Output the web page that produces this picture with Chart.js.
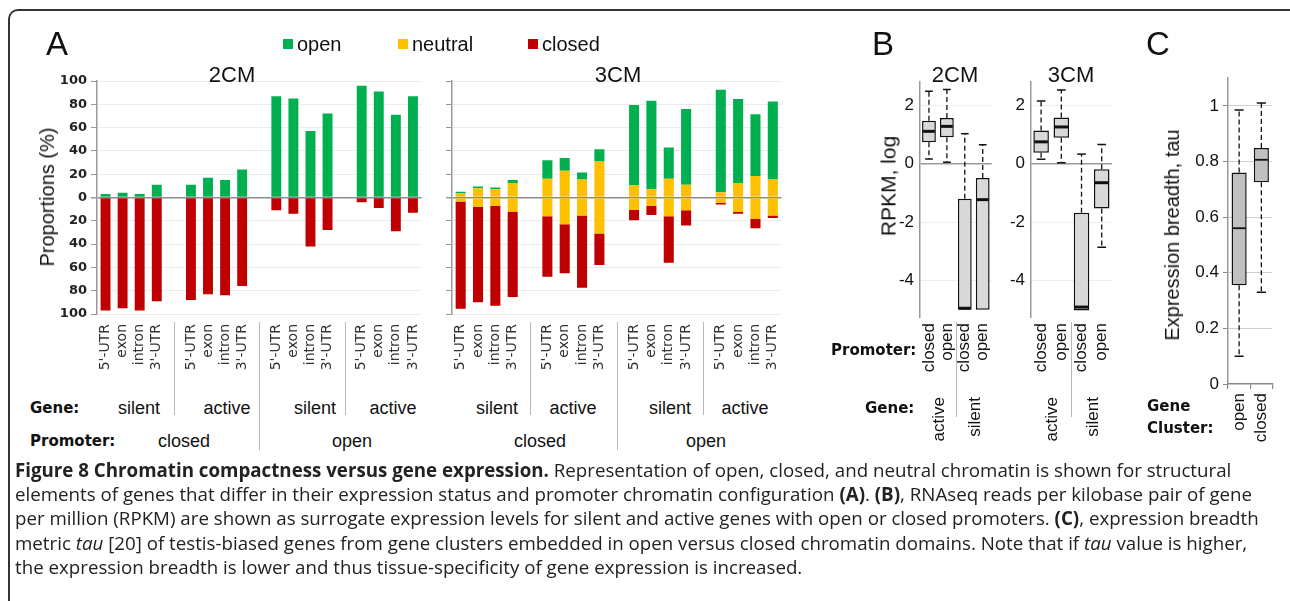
<!DOCTYPE html>
<html><head><meta charset="utf-8">
<script src="https://cdn.jsdelivr.net/npm/chart.js@4.4.1/dist/chart.umd.min.js"></script>
<style>
html,body{margin:0;padding:0;background:#fff;}
body{width:1290px;height:601px;position:relative;overflow:hidden;font-family:"Liberation Sans",Arial,sans-serif;color:#111;}
.abs{position:absolute;white-space:nowrap;line-height:1;}
.cv{position:absolute;}
.rot{position:absolute;white-space:nowrap;line-height:1;transform-origin:0 0;transform:rotate(-90deg) translate(-100%,-50%);}
.vc{transform:translateY(-50%);}
.hc{transform:translate(-50%,-50%);}
.bold{font-family:"DejaVu Sans",Verdana,sans-serif;font-weight:bold;font-size:15px;}
.grp{font-size:18px;color:#111;}
.sep{position:absolute;width:1px;background:#b8b8b8;}
#frame{position:absolute;left:8px;top:9px;width:1290px;height:600px;border-top:2px solid #333;border-left:2px solid #333;border-top-left-radius:10px;}
#cap{position:absolute;left:15px;top:458px;font-family:"Open Sans",sans-serif;font-size:17px;line-height:24.2px;color:#222;}
#cap div{white-space:nowrap;}
.sq{position:absolute;width:10px;height:10px;}
</style>
</head><body>
<div id="frame"></div>

<canvas id="a2" class="cv" width="440" height="310" style="left:0px;top:60px"></canvas>
<canvas id="a3" class="cv" width="360" height="310" style="left:440px;top:60px"></canvas>
<canvas id="b2" class="cv" width="150" height="330" style="left:860px;top:60px"></canvas>
<canvas id="b3" class="cv" width="130" height="330" style="left:1000px;top:60px"></canvas>
<canvas id="c1" class="cv" width="160" height="400" style="left:1130px;top:60px"></canvas>

<div id="labels"></div>

<div id="cap">
<div id="cl1"><b>Figure 8 Chromatin compactness versus gene expression.</b> Representation of open, closed, and neutral chromatin is shown for structural</div>
<div>elements of genes that differ in their expression status and promoter chromatin configuration <b>(A)</b>. <b>(B)</b>, RNAseq reads per kilobase pair of gene</div>
<div>per million (RPKM) are shown as surrogate expression levels for silent and active genes with open or closed promoters. <b>(C)</b>, expression breadth</div>
<div>metric <i>tau</i> [20] of testis-biased genes from gene clusters embedded in open versus closed chromatin domains. Note that if <i>tau</i> value is higher,</div>
<div>the expression breadth is lower and thus tissue-specificity of gene expression is increased.</div>
</div>

<script>
// ---------------- DATA ----------------
const elements = ["5'-UTR", "exon", "intron", "3'-UTR"];
const geneGroupsA = ["silent", "active", "silent", "active"];
const promoterGroupsA = ["closed", "open"];
const legendLabels = ["open", "neutral", "closed"];

// Panel A, 2CM (percent)
const open2CM    = [3, 4, 3, 11,   11, 17, 15, 24,   87, 85, 57, 72,   96, 91, 71, 87];
const neutral2CM = [0, 0, 0, 0,    0, 0, 0, 0,       0, 0, 0, 0,       0, 0, 0, 0];
const closed2CM  = [97, 95, 97, 89, 88, 83, 84, 76,  11, 14, 42, 28,   4, 9, 29, 13];

// Panel A, 3CM (percent)
const open3CM    = [1.5, 1.5, 1.5, 2.5, 16, 11, 6, 10.5, 69, 76, 27, 65, 88, 72, 53, 67];
const neutral3CM = [7, 16, 14, 25,       32, 46, 31, 62,  21, 14, 32, 22, 9, 25, 37, 31];
const closed3CM  = [92, 82, 86, 73,      52, 42, 62, 27,  9, 8, 40, 13,   1.5, 1.5, 8, 2];

const propTicks = [-100, -80, -60, -40, -20, 0, 20, 40, 60, 80, 100];

// Panel B (RPKM, log)
const promoterB = ["closed", "open", "closed", "open"];
const geneB = ["active", "silent"];
const rpkmTicks = [-4, -2, 0, 2];
const b2Low  = [0.16, 0.05, -5.0, -5.0];
const b2Q1   = [0.74, 0.91, -5.0, -5.0];
const b2Med  = [1.11, 1.28, -4.95, -1.23];
const b2Q3   = [1.47, 1.57, -1.2, -0.49];
const b2High = [2.48, 2.54, 1.03, 0.65];
const b3Low  = [0.15, 0.03, -5.03, -2.86];
const b3Q1   = [0.38, 0.89, -5.03, -1.53];
const b3Med  = [0.75, 1.26, -4.91, -0.65];
const b3Q3   = [1.14, 1.58, -1.68, -0.19];
const b3High = [2.15, 2.53, 0.33, 0.66];

// Panel C (tau)
const clusterC = ["open", "closed"];
const tauTicks = [0, 0.2, 0.4, 0.6, 0.8, 1];
const cLow  = [0.10, 0.33];
const cQ1   = [0.355, 0.725];
const cMed  = [0.56, 0.806];
const cQ3   = [0.76, 0.848];
const cHigh = [0.985, 1.01];

// ---------------- STYLE ----------------
const GREEN = '#00AF50', YELLOW = '#FFC000', RED = '#C00000';
const SANS = "'Liberation Sans',Arial,sans-serif";
const BOLDF = "'DejaVu Sans',Verdana,sans-serif";

function slotify(a) {
  const o = [];
  for (let g = 0; g < 4; g++) {
    for (let k = 0; k < 4; k++) o.push(a[g * 4 + k]);
    if (g < 3) o.push(null);
  }
  return o;
}
const slotLabels = slotify([].concat(elements, elements, elements, elements)).map(v => v === null ? '' : v);

function makeA(id, open, neutral, closed, showY, yW, padR) {
  const nUp = slotify(neutral).map(v => v === null ? null : v / 2);
  const nDn = slotify(neutral).map(v => v === null ? null : -v / 2);
  const op = slotify(open);
  const cl = slotify(closed).map(v => v === null ? null : -v);
  const common = { barPercentage: 0.58, categoryPercentage: 1, borderWidth: 0 };
  return new Chart(document.getElementById(id), {
    type: 'bar',
    data: {
      labels: slotLabels,
      datasets: [
        Object.assign({ label: 'neutral', data: nUp, backgroundColor: YELLOW }, common),
        Object.assign({ label: 'neutral-', data: nDn, backgroundColor: YELLOW }, common),
        Object.assign({ label: 'open', data: op, backgroundColor: GREEN }, common),
        Object.assign({ label: 'closed', data: cl, backgroundColor: RED }, common)
      ]
    },
    options: {
      responsive: false, animation: false, maintainAspectRatio: false,
      layout: { padding: { left: 0, top: 21, right: padR, bottom: 0 } },
      plugins: { legend: { display: false }, tooltip: { enabled: false } },
      scales: {
        x: {
          stacked: true,
          grid: { display: false, drawTicks: false },
          border: { display: false },
          ticks: { autoSkip: false, maxRotation: 90, minRotation: 90, padding: 10,
                   font: { family: "'DejaVu Sans'", style: 'condensed', size: 14 }, color: '#333' },
          afterFit: s => { s.height = 56; }
        },
        y: {
          stacked: true, min: -100, max: 100,
          afterBuildTicks: ax => { ax.ticks = propTicks.map(v => ({ value: v })); },
          ticks: { display: showY, callback: v => String(Math.abs(v)), padding: 4,
                   font: { family: BOLDF, weight: 'bold', size: 13 }, color: '#222' },
          grid: { color: c => c.tick && c.tick.value === 0 ? '#8c8c8c' : '#ececec',
                  lineWidth: c => c.tick && c.tick.value === 0 ? 1.5 : 1,
                  tickColor: '#999', tickLength: 6 },
          border: { color: '#999', width: 1.5 },
          afterFit: s => { s.width = yW; }
        }
      }
    }
  });
}

const chA2 = makeA('a2', open2CM, neutral2CM, closed2CM, true, 97, 10);
const chA3 = makeA('a3', open3CM, neutral3CM, closed3CM, false, 12, 15);

function boxPluginFactory(low, q1, med, q3, high, medW, capFrac) {
  return {
    id: 'boxw',
    afterDatasetsDraw(chart) {
      const ctx = chart.ctx, ys = chart.scales.y;
      const meta = chart.getDatasetMeta(0);
      meta.data.forEach((bar, i) => {
        const x = bar.x, w = bar.width;
        const py = v => ys.getPixelForValue(v);
        ctx.save();
        ctx.strokeStyle = '#111';
        ctx.lineWidth = 1.3;
        ctx.setLineDash([5, 3]);
        ctx.beginPath();
        if (high[i] > q3[i]) { ctx.moveTo(x, py(q3[i])); ctx.lineTo(x, py(high[i])); }
        if (low[i] < q1[i]) { ctx.moveTo(x, py(q1[i])); ctx.lineTo(x, py(low[i])); }
        ctx.stroke();
        ctx.setLineDash([]);
        ctx.lineWidth = 1.5;
        ctx.beginPath();
        const cw = w * capFrac;
        if (high[i] > q3[i]) { ctx.moveTo(x - cw, py(high[i])); ctx.lineTo(x + cw, py(high[i])); }
        if (low[i] < q1[i]) { ctx.moveTo(x - cw, py(low[i])); ctx.lineTo(x + cw, py(low[i])); }
        ctx.stroke();
        ctx.lineWidth = medW;
        ctx.beginPath();
        ctx.moveTo(x - w / 2 + 1, py(med[i])); ctx.lineTo(x + w / 2 - 1, py(med[i]));
        ctx.stroke();
        ctx.restore();
      });
    }
  };
}

function makeBox(id, labels, low, q1, med, q3, high, cfg) {
  return new Chart(document.getElementById(id), {
    type: 'bar',
    data: {
      labels: labels,
      datasets: [{
        data: q1.map((v, i) => [v, q3[i]]),
        backgroundColor: cfg.fill, borderColor: '#111', borderWidth: 1.5, borderSkipped: false,
        barPercentage: cfg.barPct, categoryPercentage: 1
      }]
    },
    plugins: [boxPluginFactory(low, q1, med, q3, high, cfg.medW, cfg.cap)],
    options: {
      responsive: false, animation: false, maintainAspectRatio: false,
      layout: { padding: cfg.pad },
      plugins: { legend: { display: false }, tooltip: { enabled: false } },
      scales: {
        x: {
          grid: cfg.xGrid,
          border: cfg.xBorder,
          ticks: { autoSkip: false, maxRotation: 90, minRotation: 90, padding: cfg.xPad,
                   font: { family: SANS, size: 17 }, color: '#111' },
          afterFit: s => { s.height = cfg.xH; }
        },
        y: {
          min: cfg.min, max: cfg.max,
          afterBuildTicks: ax => { ax.ticks = cfg.ticks.map(v => ({ value: v })); },
          ticks: { callback: v => String(v), padding: cfg.yPad,
                   font: { family: SANS, size: 17 }, color: '#111' },
          grid: cfg.yGrid,
          border: { color: '#999', width: 1.5 },
          afterFit: s => { s.width = cfg.yW; }
        }
      }
    }
  });
}

const bGrid = { color: c => c.tick && c.tick.value === 0 ? '#999' : '#eeeeee', lineWidth: c => c.tick && c.tick.value === 0 ? 1.5 : 1, drawTicks: false };
const bCfg = (yW, padR) => ({
  fill: '#d9d9d9', barPct: 0.77, medW: 3, cap: 0.28,
  pad: { left: 0, top: 22, right: padR, bottom: 0 },
  xGrid: { display: false, drawTicks: false }, xBorder: { display: false }, xPad: 6, xH: 73,
  min: -5.25, max: 2.8, ticks: rpkmTicks, yPad: 6, yGrid: bGrid, yW: yW
});
const chB2 = makeBox('b2', promoterB, b2Low, b2Q1, b2Med, b2Q3, b2High, bCfg(60, 7));
const chB3 = makeBox('b3', promoterB, b3Low, b3Q1, b3Med, b3Q3, b3High, bCfg(31, 15));

const chC = makeBox('c1', clusterC, cLow, cQ1, cMed, cQ3, cHigh, {
  fill: '#c0c0c0', barPct: 0.68, medW: 1.8, cap: 0.3,
  pad: { left: 0, top: 18, right: 17, bottom: 0 },
  xGrid: { display: true, offset: true, drawOnChartArea: false, color: '#888', tickLength: 5, lineWidth: 1.2 },
  xBorder: { display: true, color: '#888', width: 1.5 }, xPad: 4, xH: 76,
  min: 0, max: 1.1, ticks: tauTicks, yPad: 4,
  yGrid: { color: c => c.tick && c.tick.value === 0 ? 'rgba(0,0,0,0)' : '#cfcfcf', borderDash: [2, 2], tickColor: '#888', tickLength: 5, tickBorderDash: [] },
  yW: 98
});

// ---------------- HTML TEXT ----------------
const L = document.getElementById('labels');
function add(html, cls, style) {
  const d = document.createElement('div');
  d.className = cls; d.innerHTML = html; d.setAttribute('style', style);
  L.appendChild(d); return d;
}
function sep(x, y1, y2) { add('', 'sep', `left:${Math.round(x)}px;top:${y1}px;height:${y2 - y1}px`); }
function canvasX(ch, v) { return ch.canvas.offsetLeft + ch.scales.x.getPixelForValue(v); }

// panel letters
add('A', 'abs', 'left:46px;top:27px;font-size:33px;');
add('B', 'abs', 'left:872px;top:27px;font-size:33px;');
add('C', 'abs', 'left:1146px;top:27px;font-size:33px;');

// legend
const legCols = [GREEN, YELLOW, RED];
const legX = [283, 398, 528];
legendLabels.forEach((t, i) => {
  add('', 'sq', `left:${legX[i]}px;top:39px;background:${legCols[i]}`);
  add(t, 'abs vc', `left:${legX[i] + 14}px;top:44px;font-size:20px;`);
});

// titles
add('2CM', 'abs hc', 'left:232px;top:75px;font-size:22px;');
add('3CM', 'abs hc', 'left:618px;top:75px;font-size:22px;');
add('2CM', 'abs hc', 'left:955px;top:75px;font-size:22px;');
add('3CM', 'abs hc', 'left:1071px;top:75px;font-size:22px;');

// axis titles (rotated, centered)
add('Proportions (%)', 'abs', 'left:47px;top:197px;font-size:20px;transform:translate(-50%,-50%) rotate(-90deg);');
add('RPKM, log', 'abs', 'left:888px;top:186px;font-size:21px;transform:translate(-50%,-50%) rotate(-90deg);');
add('Expression breadth, tau', 'abs', 'left:1172px;top:235px;font-size:20px;transform:translate(-50%,-50%) rotate(-90deg);');

// Panel A group labels
add('Gene:', 'abs vc bold', 'left:30px;top:408px;');
add('Promoter:', 'abs vc bold', 'left:30px;top:441px;');
const geneX2 = [139, 227, 315, 393], geneX3 = [497, 573, 670, 745];
geneGroupsA.forEach((t, i) => {
  add(t, 'abs hc grp', `left:${geneX2[i]}px;top:408px;`);
  add(t, 'abs hc grp', `left:${geneX3[i]}px;top:408px;`);
});
const promX2 = [184, 352], promX3 = [540, 706];
promoterGroupsA.forEach((t, i) => {
  add(t, 'abs hc grp', `left:${promX2[i]}px;top:441px;`);
  add(t, 'abs hc grp', `left:${promX3[i]}px;top:441px;`);
});
[chA2, chA3].forEach(ch => {
  sep(canvasX(ch, 4), 322, 415);
  sep(canvasX(ch, 9), 322, 450);
  sep(canvasX(ch, 14), 322, 415);
});

// Panel B group labels
add('Promoter:', 'abs vc bold', 'left:831px;top:350px;');
add('Gene:', 'abs vc bold', 'left:865px;top:408px;');
[chB2, chB3].forEach(ch => {
  geneB.forEach((t, i) => {
    const x = canvasX(ch, i * 2 + 0.5);
    add(t, 'rot', `left:${x}px;top:397px;font-size:17px;`);
  });
  sep(canvasX(ch, 1.5), 322, 417);
});

// Panel C labels
add('Gene', 'abs vc bold', 'left:1147px;top:406px;');
add('Cluster:', 'abs vc bold', 'left:1147px;top:428px;');

// caption fit
const c1 = document.getElementById('cl1');
const span = document.createElement('span');
span.innerHTML = c1.innerHTML; c1.innerHTML = ''; c1.appendChild(span);
const w = span.getBoundingClientRect().width;
const fs = 17 * 1217 / w;
document.getElementById('cap').style.fontSize = fs.toFixed(2) + 'px';
</script>
</body></html>
